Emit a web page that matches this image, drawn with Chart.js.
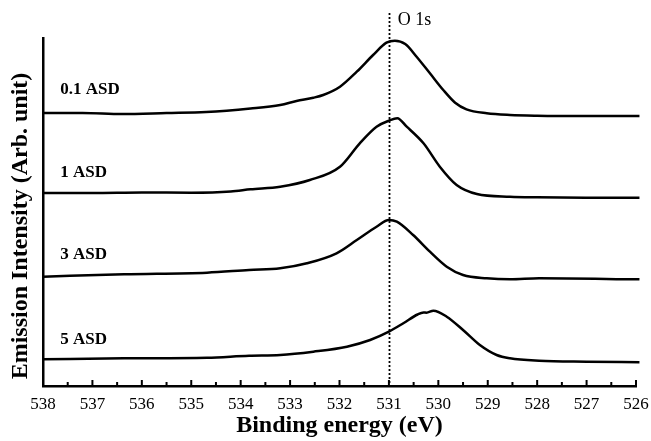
<!DOCTYPE html>
<html>
<head>
<meta charset="utf-8">
<script src="https://cdn.jsdelivr.net/npm/chart.js@4.4.1/dist/chart.umd.min.js"></script>
<style>
  html, body { margin: 0; padding: 0; background: #fff; }
  #wrap { width: 651px; height: 441px; }
</style>
</head>
<body>
<div id="wrap"><canvas id="myChart" width="651" height="441"></canvas></div>
<script>
// binding energy (eV) and stacked intensity (arb. unit)
var seriesNames = ["0.1 ASD", "1 ASD", "3 ASD", "5 ASD"];

var e01 = [538.0, 537.2, 536.4, 535.5, 534.7, 533.8, 533.2, 532.87, 532.53, 532.33, 531.99, 531.65, 531.32, 531.05, 530.88, 530.67, 530.44, 530.17, 529.9, 529.66, 529.43, 529.02, 528.55, 528.0, 527.0, 525.93];
var i01 = [273, 273, 272, 273, 274, 277.5, 281, 285, 288.3, 291, 299.3, 314.3, 331, 343.3, 345.3, 342, 329.3, 312.7, 296, 283.3, 276.7, 272.7, 271, 270.3, 270, 270];

var e1 = [538.0, 537.0, 536.0, 535.0, 534.2, 533.8, 533.2, 532.6, 531.99, 531.59, 531.25, 531.0, 530.83, 530.64, 530.3, 529.97, 529.63, 529.22, 528.55, 528.0, 527.0, 525.93];
var i1 = [193, 193, 193.5, 193.3, 194.5, 196.7, 199.3, 206, 219.3, 242.7, 259.3, 265.3, 267.7, 259.3, 242.7, 219.3, 201, 192, 189.3, 188.7, 188.3, 188.3];

var e3 = [538.0, 536.36, 534.68, 533.83, 533.2, 532.66, 532.06, 531.65, 531.25, 531.0, 530.84, 530.51, 530.17, 529.83, 529.5, 529.02, 528.55, 527.96, 525.93];
var i3 = [109.3, 111.7, 113.3, 116, 117.7, 122.7, 132.7, 146, 159.3, 166, 164.3, 151, 134.3, 119.3, 111, 107.7, 106.7, 107.7, 106.7];

var e5 = [538.0, 536.36, 534.68, 533.83, 533.2, 532.53, 531.85, 531.38, 531.0, 530.7, 530.42, 530.3, 530.24, 530.1, 529.83, 529.5, 529.16, 528.82, 528.55, 527.96, 527.0, 525.93];
var i5 = [26.7, 27.7, 28.3, 30.3, 31, 34.3, 39.3, 46, 54.3, 63, 71.5, 73.5, 73.3, 75.3, 69.3, 56, 41, 31, 27.7, 25.3, 24.3, 23.7];

var energies = [e01, e1, e3, e5];
var intensities = [i01, i1, i3, i5];

var peakLine = 531;
var peakLabel = "O 1s";
var yTitle = "Emission Intensity (Arb. unit)";
var xTicksMin = 526, xTicksMax = 538;

var serif = "'Liberation Serif', 'Times New Roman', serif";

var datasets = seriesNames.map(function (name, k) {
  return {
    label: name,
    data: energies[k].map(function (e, j) { return {x: e, y: intensities[k][j]}; }),
    borderColor: "#000",
    borderWidth: 2.5,
    pointRadius: 0,
    fill: false,
    cubicInterpolationMode: "monotone",
    clip: {left: 0, top: 40, right: 6, bottom: 0}
  };
});

// series labels, O 1s marker, y title and the small inward ticks
var extras = {
  id: "extras",
  afterDatasetsDraw: function (chart) {
    var ctx = chart.ctx, xs = chart.scales.x, ys = chart.scales.y, area = chart.chartArea;
    ctx.save();

    // dotted reference line
    var px = Math.round(xs.getPixelForValue(peakLine)) + 0.5;
    ctx.strokeStyle = "#000";
    ctx.lineWidth = 1.8;
    ctx.setLineDash([2, 2]);
    ctx.beginPath();
    ctx.moveTo(px, 13);
    ctx.lineTo(px, area.bottom);
    ctx.stroke();
    ctx.setLineDash([]);

    // tick marks every 0.5 eV, pointing up
    ctx.lineWidth = 2;
    for (var v = xTicksMin; v <= xTicksMax; v += 0.5) {
      var tx = xs.getPixelForValue(v);
      var len = (v % 1 === 0) ? 6 : 4;
      ctx.beginPath();
      ctx.moveTo(tx, area.bottom);
      ctx.lineTo(tx, area.bottom - len);
      ctx.stroke();
    }

    ctx.fillStyle = "#000";
    ctx.textBaseline = "middle";
    ctx.textAlign = "left";
    ctx.font = "bold 17px " + serif;
    var labelY = [296, 213, 131, 46];
    seriesNames.forEach(function (name, k) {
      ctx.fillText(name, xs.getPixelForValue(537.65), ys.getPixelForValue(labelY[k]));
    });

    ctx.font = "18px " + serif;
    ctx.fillText(peakLabel, xs.getPixelForValue(530.82), 20);

    // y axis title, sits a little below the plot centre in the original
    ctx.translate(21, 226);
    ctx.rotate(-Math.PI / 2);
    ctx.textAlign = "center";
    ctx.font = "bold 24px " + serif;
    ctx.fillText(yTitle, 0, 0);
    ctx.restore();
  }
};

new Chart("myChart", {
  type: "line",
  data: { datasets: datasets },
  options: {
    responsive: false,
    animation: false,
    layout: { padding: { top: 38, right: 15, left: 0, bottom: 0 } },
    scales: {
      x: {
        type: "linear",
        min: xTicksMin,
        max: xTicksMax,
        reverse: true,
        afterFit: function (s) { s.height = 55; s.paddingLeft = 0; s.paddingRight = 0; },
        grid: { drawOnChartArea: false, drawTicks: false },
        border: { display: true, color: "#000", width: 2.5 },
        ticks: {
          stepSize: 1,
          padding: 8,
          color: "#000",
          font: { family: serif, size: 17 },
          callback: function (v) { return v; }
        },
        title: {
          display: true,
          text: "Binding energy (eV)",
          color: "#000",
          font: { family: serif, size: 24, weight: "bold" },
          padding: { top: 0, bottom: 1 }
        }
      },
      y: {
        min: 0,
        max: 348,
        afterFit: function (s) { s.width = 43; },
        grid: { drawOnChartArea: false, drawTicks: false },
        border: { display: true, color: "#000", width: 2.5 },
        ticks: { display: false },
        title: { display: false }
      }
    },
    plugins: {
      legend: { display: false },
      tooltip: { enabled: false }
    }
  },
  plugins: [extras]
});
</script>
</body>
</html>
